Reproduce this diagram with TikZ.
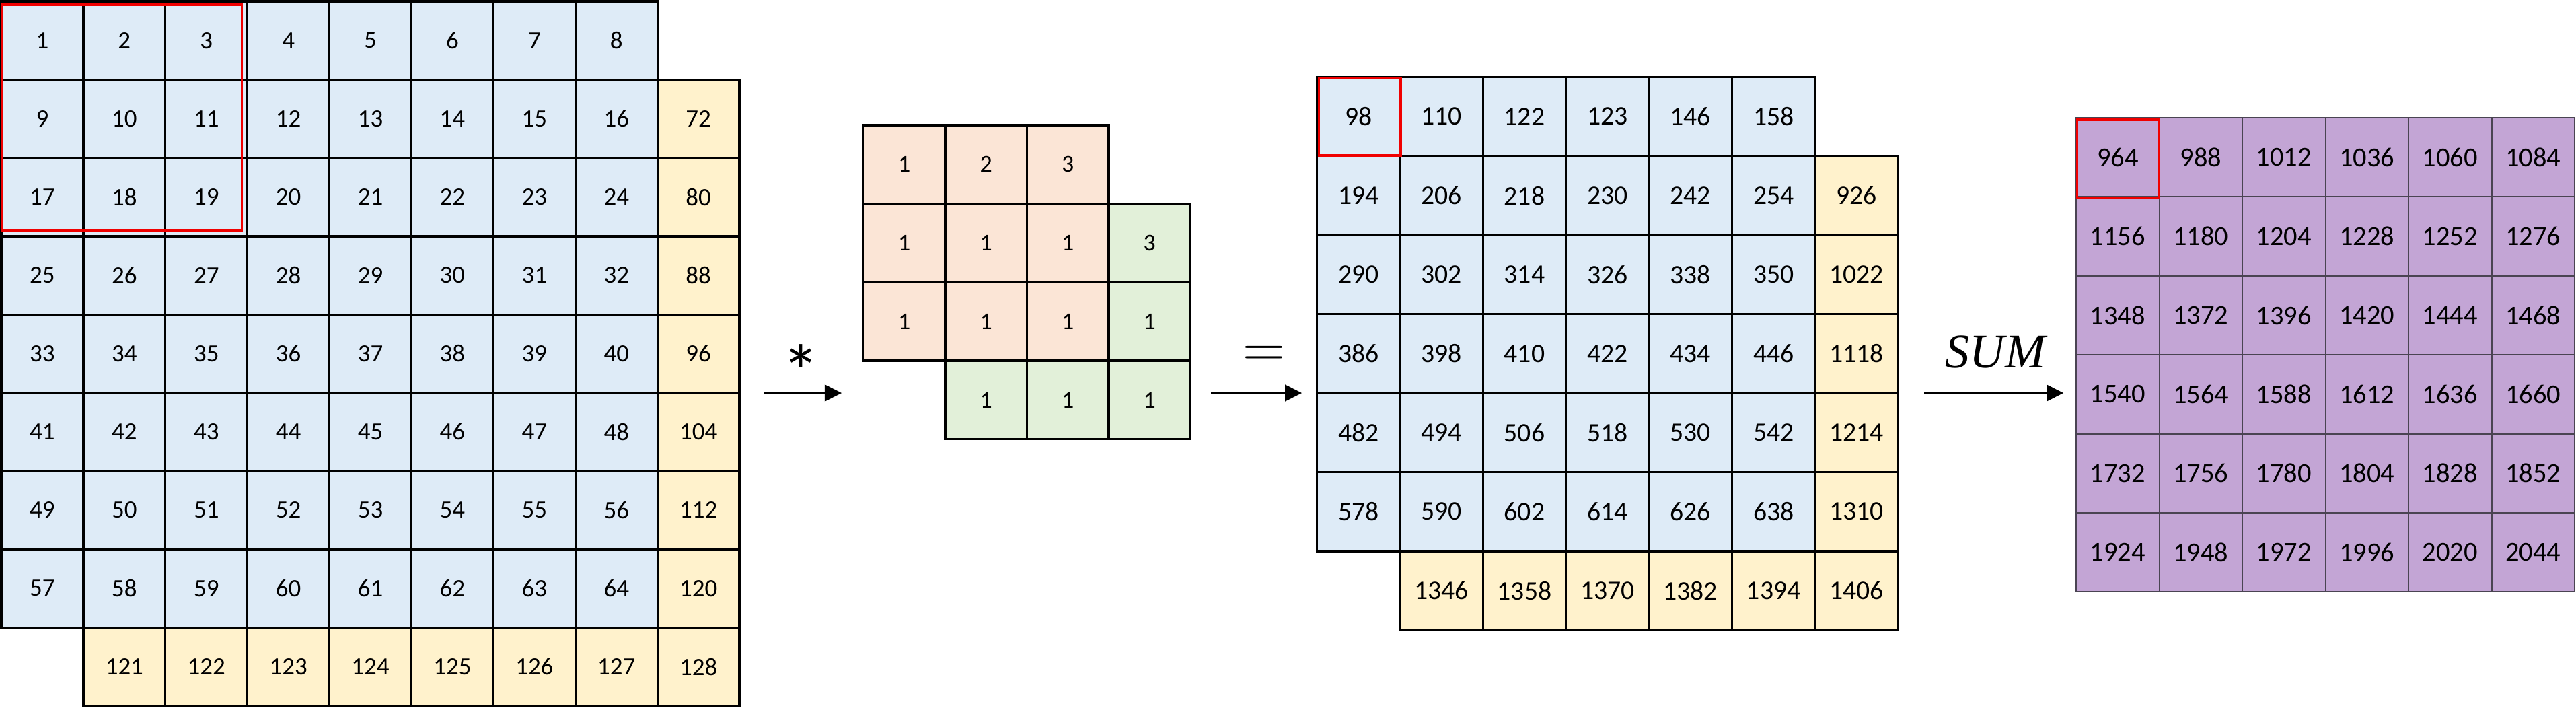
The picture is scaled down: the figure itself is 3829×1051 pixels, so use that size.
\documentclass[tikz,border=0pt]{standalone}
\usepackage{fontspec}
\setmainfont{Carlito}
\newfontfamily\sumfont{Liberation Serif}
\usetikzlibrary{arrows.meta}
\definecolor{cblue}{HTML}{DEEBF7}
\definecolor{cyel}{HTML}{FFF2CC}
\definecolor{cpeach}{HTML}{FBE5D6}
\definecolor{cgreen}{HTML}{E2F0D9}
\definecolor{cpurple}{HTML}{C3A5D5}
\definecolor{cred}{HTML}{F00000}
\definecolor{cgrid}{HTML}{4A4452}
\begin{document}
\begin{tikzpicture}[x=0.01cm,y=-0.01cm,
  cellbase/.style={rectangle,draw=black,line width=0.033cm,inner sep=0pt,outer sep=0pt,text=black},
  gone/.style={cellbase,minimum width=121.9*0.01cm,minimum height=116.3*0.01cm,font=\fontsize{10.5}{12}\selectfont},
  gker/.style={cellbase,minimum width=121.5*0.01cm,minimum height=116.7*0.01cm,font=\fontsize{10.2}{12}\selectfont},
  gthree/.style={cellbase,minimum width=123.4*0.01cm,minimum height=117.4*0.01cm,font=\fontsize{11.3}{13}\selectfont},
  gfour/.style={cellbase,draw=cgrid,line width=0.02cm,fill=cpurple,minimum width=123.5*0.01cm,minimum height=117.4*0.01cm,font=\fontsize{11.5}{13}\selectfont},
  redbox/.style={draw=cred,line width=0.034cm},
  arr/.style={line width=0.016cm,-{Triangle[length=0.25cm,width=0.25cm]}},
  oplabel/.style={inner sep=0pt,outer sep=0pt}
]
\useasboundingbox (0,0) rectangle (3829,1051);

% ---------- grid 1 (input) ----------
\foreach \ri in {0,...,7}{
  \foreach \ci in {0,...,7}{
    \pgfmathtruncatemacro\vv{8*\ri+\ci+1}
    \node[gone,fill=cblue] (g1-\ri-\ci) at ({2+(\ci+0.5)*121.9},{2+(\ri+0.5)*116.3}) {\vv};
  }
}
\foreach \ri in {1,...,8}{
  \pgfmathtruncatemacro\vv{64+8*\ri}
  \node[gone,fill=cyel] (g1-\ri-8) at ({2+8.5*121.9},{2+(\ri+0.5)*116.3}) {\vv};
}
\foreach \ci in {1,...,7}{
  \pgfmathtruncatemacro\vv{120+\ci}
  \node[gone,fill=cyel] (g1-8-\ci) at ({2+(\ci+0.5)*121.9},{2+8.5*116.3}) {\vv};
}
\draw[redbox] ([shift={(1.5,5)}]g1-0-0.north west) rectangle ([shift={(-8.5,-8)}]g1-2-2.south east);

% ---------- kernel ----------
\foreach \rv [count=\ri from 0] in {{1,2,3},{1,1,1},{1,1,1}}{
  \foreach \vv [count=\ci from 0] in \rv{
    \node[gker,fill=cpeach] (k-\ri-\ci) at ({1283.5+(\ci+0.5)*121.5},{186+(\ri+0.5)*116.7}) {\vv};
  }
}
\foreach \vv [count=\ri from 1] in {3,1,1}{
  \node[gker,fill=cgreen] (k-\ri-3) at ({1283.5+3.5*121.5},{186+(\ri+0.5)*116.7}) {\vv};
}
\foreach \vv [count=\ci from 1] in {1,1}{
  \node[gker,fill=cgreen] (k-3-\ci) at ({1283.5+(\ci+0.5)*121.5},{186+3.5*116.7}) {\vv};
}

% ---------- grid 3 (convolution result) ----------
\foreach \rv [count=\ri from 0] in {{98,110,122,123,146,158},{194,206,218,230,242,254},{290,302,314,326,338,350},{386,398,410,422,434,446},{482,494,506,518,530,542},{578,590,602,614,626,638}}{
  \foreach \vv [count=\ci from 0] in \rv{
    \node[gthree,fill=cblue] (g3-\ri-\ci) at ({1957.5+(\ci+0.5)*123.4},{114.5+(\ri+0.5)*117.4}) {\vv};
  }
}
\foreach \vv [count=\ri from 1] in {926,1022,1118,1214,1310,1406}{
  \node[gthree,fill=cyel] (g3-\ri-6) at ({1957.5+6.5*123.4},{114.5+(\ri+0.5)*117.4}) {\vv};
}
\foreach \vv [count=\ci from 1] in {1346,1358,1370,1382,1394}{
  \node[gthree,fill=cyel] (g3-6-\ci) at ({1957.5+(\ci+0.5)*123.4},{114.5+6.5*117.4}) {\vv};
}
\draw[redbox] ([shift={(3,1)}]g3-0-0.north west) rectangle ([shift={(1,-1)}]g3-0-0.south east);

% ---------- grid 4 (sum) ----------
\foreach \rv [count=\ri from 0] in {{964,988,1012,1036,1060,1084},{1156,1180,1204,1228,1252,1276},{1348,1372,1396,1420,1444,1468},{1540,1564,1588,1612,1636,1660},{1732,1756,1780,1804,1828,1852},{1924,1948,1972,1996,2020,2044}}{
  \foreach \vv [count=\ci from 0] in \rv{
    \node[gfour] (g4-\ri-\ci) at ({3086+(\ci+0.5)*123.5},{175+(\ri+0.5)*117.4}) {\vv};
  }
}
\draw[redbox] ([shift={(1.5,3)}]g4-0-0.north west) rectangle ([shift={(-0.5,1)}]g4-0-0.south east);

% ---------- arrows and operators ----------
\coordinate (a1s) at (1136,584);
\coordinate (a1e) at (1251,584);
\draw[arr] (a1s) -- (a1e);
\node[oplabel,font=\fontsize{32}{34}\selectfont] (star) at (1191,552) {*};

\coordinate (a2s) at (1800,584);
\coordinate (a2e) at (1935,584);
\draw[arr] (a2s) -- (a2e);
\node[oplabel,font=\fontsize{23}{26}\selectfont] (eq) at (1879,530) {$=$};

\coordinate (a3s) at (2860,584);
\coordinate (a3e) at (3067,584);
\draw[arr] (a3s) -- (a3e);
\node[oplabel,font=\sumfont\itshape\fontsize{20.5}{23}\selectfont] (sum) at (2966,523) {SUM};
\end{tikzpicture}
\end{document}
